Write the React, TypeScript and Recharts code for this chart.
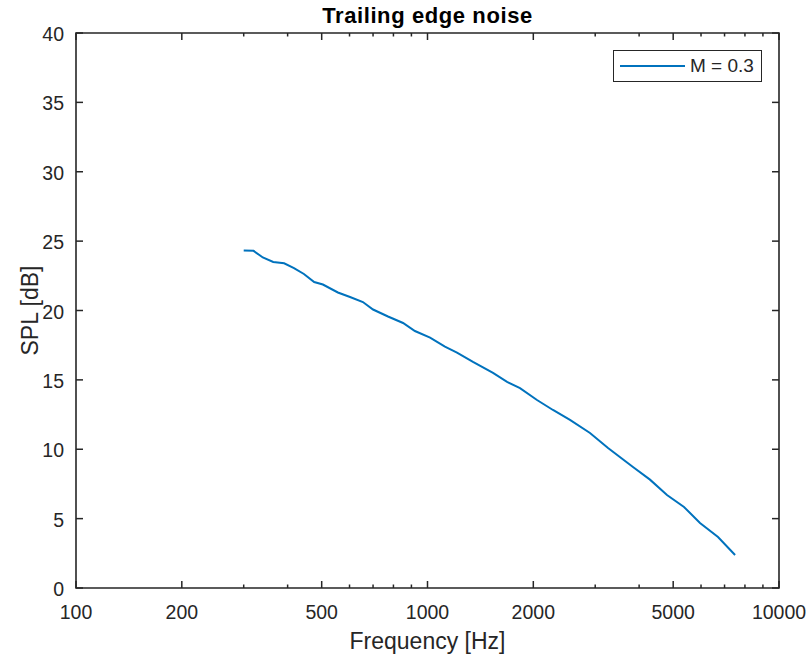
import { LineChart, Line, XAxis, YAxis, ReferenceArea, Legend } from 'recharts';

const FREQ = [300, 320, 340, 364, 391, 417, 445, 476, 504, 556, 602, 655, 700, 772, 852, 921, 1017, 1121, 1213, 1347, 1536, 1684, 1833, 2049, 2275, 2543, 2899, 3263, 3842, 4295, 4801, 5367, 5960, 6706, 7500];
const SPL = [24.32, 24.3, 23.82, 23.5, 23.4, 23.06, 22.63, 22.05, 21.87, 21.3, 20.97, 20.61, 20.07, 19.57, 19.1, 18.52, 18.05, 17.4, 16.97, 16.29, 15.5, 14.85, 14.41, 13.55, 12.83, 12.11, 11.17, 10.09, 8.72, 7.81, 6.7, 5.84, 4.68, 3.68, 2.38];

const X_MAJOR = [100, 200, 500, 1000, 2000, 5000, 10000];
const X_MINOR = [300, 400, 600, 700, 800, 900, 3000, 4000, 6000, 7000, 8000, 9000];
const Y_TICKS = [0, 5, 10, 15, 20, 25, 30, 35, 40];

const data = FREQ.map((f, i) => ({ f, spl: SPL[i] }));

const FONT = '"Liberation Sans", Arial, sans-serif';
const INK = '#262626';
const BLUE = '#0072BD';

// plot box (pixels), follows from the margins / axis sizes below
const LEFT = 76;
const RIGHT = 779;
const TOP = 33;
const BOTTOM = 588;

function XTick(props: any) {
  const { x, payload } = props;
  const major = X_MAJOR.includes(payload.value);
  const len = major ? 7 : 3.5;
  return (
    <g>
      <line x1={x} x2={x} y1={BOTTOM} y2={BOTTOM - len} stroke={INK} strokeWidth={1.5} />
      <line x1={x} x2={x} y1={TOP} y2={TOP + len} stroke={INK} strokeWidth={1.5} />
      {major && (
        <text x={x} y={BOTTOM + 31} textAnchor="middle" fontFamily={FONT} fontSize={19.5} fill={INK}>
          {payload.value}
        </text>
      )}
    </g>
  );
}

function YTick(props: any) {
  const { y, payload } = props;
  return (
    <g>
      <line x1={LEFT} x2={LEFT + 7} y1={y} y2={y} stroke={INK} strokeWidth={1.5} />
      <line x1={RIGHT - 7} x2={RIGHT} y1={y} y2={y} stroke={INK} strokeWidth={1.5} />
      <text x={LEFT - 12} y={y + 8} textAnchor="end" fontFamily={FONT} fontSize={19.5} fill={INK}>
        {payload.value}
      </text>
    </g>
  );
}

function LegendBox() {
  return (
    <div
      style={{
        position: 'relative',
        width: 149,
        height: 32,
        boxSizing: 'border-box',
        border: '1px solid #262626',
        background: '#fff',
        fontFamily: FONT,
        fontSize: 19,
        color: INK,
      }}
    >
      <svg width={147} height={30} style={{ position: 'absolute', left: 0, top: 0 }}>
        <line x1={6} x2={71} y1={15} y2={15} stroke={BLUE} strokeWidth={2} />
      </svg>
      <span style={{ position: 'absolute', left: 76, top: 0, lineHeight: '30px', whiteSpace: 'nowrap' }}>
        M = 0.3
      </span>
    </div>
  );
}

export default function App() {
  return (
    <div style={{ position: 'absolute', left: 0, top: 0, width: 809, height: 659, background: '#fff' }}>
      <div
        style={{
          position: 'absolute',
          left: LEFT,
          width: RIGHT - LEFT,
          top: 5,
          textAlign: 'center',
          fontFamily: FONT,
          fontWeight: 'bold',
          fontSize: 22,
          letterSpacing: 0.6,
          lineHeight: '22px',
          color: '#000',
        }}
      >
        Trailing edge noise
      </div>
      <LineChart width={809} height={659} data={data} margin={{ top: TOP, right: 809 - RIGHT, bottom: 0, left: 0 }}>
        <XAxis
          dataKey="f"
          type="number"
          scale="log"
          domain={[100, 10000]}
          allowDataOverflow
          ticks={[...X_MAJOR, ...X_MINOR].sort((a, b) => a - b)}
          interval={0}
          tick={<XTick />}
          tickLine={false}
          axisLine={false}
          height={659 - BOTTOM}
          label={{
            content: () => (
              <text x={(LEFT + RIGHT) / 2} y={649} textAnchor="middle" fontFamily={FONT} fontSize={23} fill={INK}>
                Frequency [Hz]
              </text>
            ),
          }}
        />
        <YAxis
          type="number"
          domain={[0, 40]}
          ticks={Y_TICKS}
          interval={0}
          tick={<YTick />}
          tickLine={false}
          axisLine={false}
          width={LEFT}
          label={{
            content: () => (
              <text
                x={38}
                y={(TOP + BOTTOM) / 2}
                transform={`rotate(-90 38 ${(TOP + BOTTOM) / 2})`}
                textAnchor="middle"
                fontFamily={FONT}
                fontSize={23}
                fill={INK}
              >
                SPL [dB]
              </text>
            ),
          }}
        />
        <ReferenceArea x1={100} x2={10000} y1={0} y2={40} fill="none" stroke={INK} strokeWidth={1.6} />
        <Legend
          layout="horizontal"
          verticalAlign="middle"
          align="center"
          content={<LegendBox />}
          wrapperStyle={{ top: 50, left: 613, width: 149, height: 32 }}
        />
        <Line
          type="linear"
          dataKey="spl"
          name="M = 0.3"
          stroke={BLUE}
          strokeWidth={2}
          dot={false}
          isAnimationActive={false}
        />
      </LineChart>
    </div>
  );
}
